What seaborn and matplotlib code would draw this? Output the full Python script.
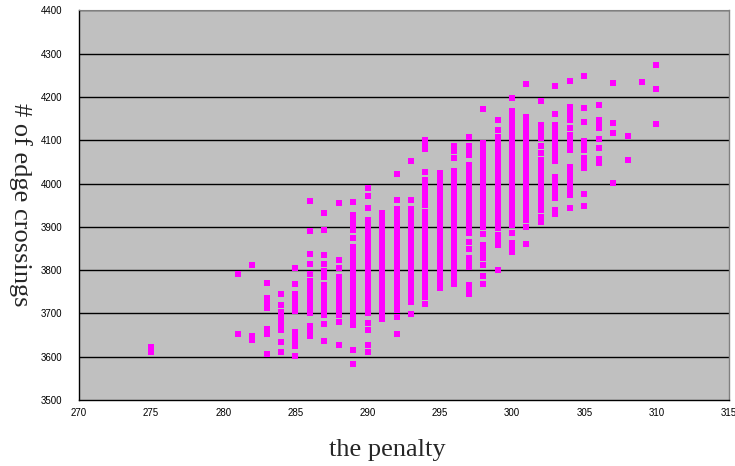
import matplotlib
matplotlib.use("Agg")
import matplotlib.pyplot as plt
import seaborn as sns
import pandas as pd

# ---- data: edge crossings per penalty value ----
c275 = [3622, 3610]
c281 = [3790, 3652]
c282 = [3811, 3648, 3638]
c283 = [3771, 3735, 3722, 3712, 3663, 3652, 3607]
c284 = [3745, 3719, 3704, 3694, 3684, 3673, 3662, 3635, 3611]
c285 = [3804, 3769, 3746, 3735, 3725, 3715, 3705, 3658, 3648, 3638, 3625, 3601]
c286 = [3960, 3890, 3838, 3815, 3790, 3775, 3765, 3755, 3746, 3738, 3727, 3712, 3702, 3671, 3660, 3648]
c287 = [3931, 3892, 3836, 3815, 3798, 3785, 3765, 3755, 3745, 3735, 3722, 3713, 3703, 3696, 3675, 3636]
c288 = [3955, 3823, 3804, 3785, 3775, 3765, 3755, 3745, 3735, 3725, 3715, 3705, 3696, 3681, 3628]
c289 = [3957, 3927, 3914, 3902, 3892, 3875, 3854, 3840, 3830, 3821, 3812, 3802, 3792, 3782, 3772,
        3762, 3750, 3738, 3731, 3721, 3711, 3701, 3691, 3682, 3673, 3615, 3583]
c290 = [3989, 3971, 3944, 3915, 3905, 3895, 3885, 3875, 3865, 3855, 3845, 3835, 3825, 3815, 3805,
        3795, 3785, 3775, 3765, 3755, 3745, 3735, 3725, 3715, 3708, 3700, 3678, 3661, 3627, 3611]
c291 = [3931, 3920, 3908, 3896, 3886, 3876, 3866, 3856, 3846, 3836, 3826, 3816, 3806, 3796, 3786,
        3776, 3766, 3756, 3746, 3736, 3723, 3715, 3700, 3688]
c292 = [4023, 3963, 3942, 3932, 3921, 3910, 3896, 3888, 3878, 3868, 3858, 3848, 3838, 3828, 3818,
        3808, 3798, 3788, 3778, 3768, 3758, 3748, 3738, 3727, 3715, 3708, 3692, 3652]
c293 = [4052, 3963, 3942, 3931, 3921, 3911, 3901, 3891, 3881, 3871, 3861, 3851, 3841, 3831, 3821,
        3811, 3801, 3791, 3781, 3771, 3761, 3750, 3738, 3727, 3698]
c294 = [4100, 4090, 4081, 4027, 4008, 3997, 3985, 3975, 3962, 3950, 3935, 3923, 3913, 3903, 3893,
        3883, 3873, 3863, 3853, 3843, 3833, 3823, 3813, 3803, 3793, 3783, 3773, 3760, 3748, 3738, 3722]
c295 = [4025, 4015, 4005, 3995, 3985, 3975, 3965, 3955, 3945, 3935, 3925, 3915, 3905, 3895, 3885,
        3875, 3865, 3855, 3845, 3835, 3825, 3815, 3805, 3795, 3785, 3773, 3758]
c296 = [4087, 4075, 4060, 4029, 4019, 4009, 3999, 3989, 3979, 3969, 3959, 3949, 3939, 3929, 3919,
        3909, 3899, 3889, 3879, 3869, 3859, 3849, 3839, 3829, 3819, 3809, 3799, 3789, 3779, 3769]
c297 = [4108, 4086, 4076, 4067, 4042, 4032, 4022, 4012, 4002, 3992, 3982, 3972, 3962, 3952, 3942,
        3932, 3922, 3912, 3902, 3892, 3885, 3865, 3850, 3827, 3818, 3808, 3765, 3755, 3745]
c298 = [4173, 4094, 4084, 4074, 4064, 4054, 4044, 4034, 4024, 4014, 4004, 3994, 3984, 3969, 3959,
        3949, 3939, 3929, 3919, 3909, 3899, 3883, 3859, 3850, 3840, 3827, 3812, 3786, 3768]
c299 = [4146, 4125, 4108, 4098, 4088, 4078, 4068, 4058, 4048, 4038, 4028, 4018, 4008, 3998, 3988,
        3978, 3968, 3958, 3948, 3938, 3928, 3918, 3908, 3898, 3881, 3869, 3858, 3800]
c300 = [4198, 4167, 4157, 4147, 4137, 4125, 4115, 4108, 4098, 4088, 4078, 4068, 4058, 4048, 4038,
        4028, 4018, 4008, 3998, 3988, 3978, 3968, 3958, 3948, 3938, 3928, 3916, 3904, 3887, 3862,
        3852, 3842]
c301 = [4229, 4154, 4144, 4134, 4125, 4115, 4100, 4090, 4080, 4070, 4060, 4050, 4040, 4030, 4020,
        4010, 4000, 3990, 3980, 3970, 3960, 3950, 3940, 3930, 3915, 3900, 3860]
c302 = [4191, 4135, 4124, 4115, 4106, 4086, 4071, 4055, 4045, 4035, 4025, 4012, 4000, 3985, 3974,
        3962, 3950, 3938, 3923, 3912]
c303 = [4225, 4160, 4135, 4125, 4116, 4107, 4098, 4086, 4076, 4066, 4052, 4016, 4005, 3994, 3981,
        3967, 3940, 3929]
c304 = [4237, 4178, 4168, 4159, 4146, 4129, 4112, 4101, 4091, 4078, 4038, 4027, 4016, 4005, 3996,
        3985, 3973, 3944]
c305 = [4249, 4175, 4143, 4098, 4087, 4077, 4060, 4048, 4035, 3977, 3948]
c306 = [4182, 4146, 4137, 4129, 4102, 4083, 4058, 4048]
c307 = [4232, 4141, 4118, 4002]
c308 = [4111, 4055]
c309 = [4234]
c310 = [4273, 4219, 4138]

penalties = [275, 281, 282, 283, 284, 285, 286, 287, 288, 289, 290, 291, 292, 293, 294, 295,
             296, 297, 298, 299, 300, 301, 302, 303, 304, 305, 306, 307, 308, 309, 310]
columns = [c275, c281, c282, c283, c284, c285, c286, c287, c288, c289, c290, c291, c292, c293,
           c294, c295, c296, c297, c298, c299, c300, c301, c302, c303, c304, c305, c306, c307,
           c308, c309, c310]

x_ticks = [270, 275, 280, 285, 290, 295, 300, 305, 310, 315]
y_ticks = [3500, 3600, 3700, 3800, 3900, 4000, 4100, 4200, 4300, 4400]

rows = []
for p, col in zip(penalties, columns):
    for v in col:
        rows.append((p, v))
df = pd.DataFrame(rows, columns=["penalty", "crossings"])

# ---- figure ----
sns.set_style("white")
fig = plt.figure(figsize=(7.35, 4.66), dpi=100)
ax = fig.add_axes([0.1072, 0.1416, 0.8842, 0.8359])
ax.set_facecolor("#C0C0C0")

sns.scatterplot(data=df, x="penalty", y="crossings", marker="s", color="#FF00FF",
                s=16, linewidth=0, ax=ax, zorder=3)

ax.set_xlim(270, 315)
ax.set_ylim(3500, 4400)
ax.set_xticks(x_ticks)
ax.set_yticks(y_ticks)
ax.set_xticklabels([str(t) for t in x_ticks], fontsize=7, family="Liberation Sans")
ax.set_yticklabels([str(t) for t in y_ticks], fontsize=7, family="Liberation Sans")

for yv in y_ticks[1:]:
    ax.axhline(yv, color="black", lw=1.0, zorder=1)

ax.tick_params(axis="x", direction="in", length=3, width=1, pad=6, colors="black")
ax.tick_params(axis="y", direction="out", length=0, width=1, pad=12, colors="black")
for lab in ax.get_xticklabels() + ax.get_yticklabels():
    lab.set_color("black")

ax.spines["left"].set_color("black")
ax.spines["bottom"].set_color("black")
ax.spines["left"].set_linewidth(1.0)
ax.spines["bottom"].set_linewidth(1.0)
ax.spines["top"].set_color("#808080")
ax.spines["right"].set_color("#808080")
ax.spines["right"].set_linewidth(1.0)

ax.set_xlabel("")
ax.set_ylabel("")
fig.text(387 / 735, 1 - 450 / 466, "the penalty", ha="center", va="center",
         fontsize=19, family="Liberation Serif")
fig.text(20 / 735, 1 - 205 / 466, "# of edge crossings", ha="center", va="center",
         rotation=270, fontsize=19, family="Liberation Serif")

fig.savefig("out.png", dpi=100)
